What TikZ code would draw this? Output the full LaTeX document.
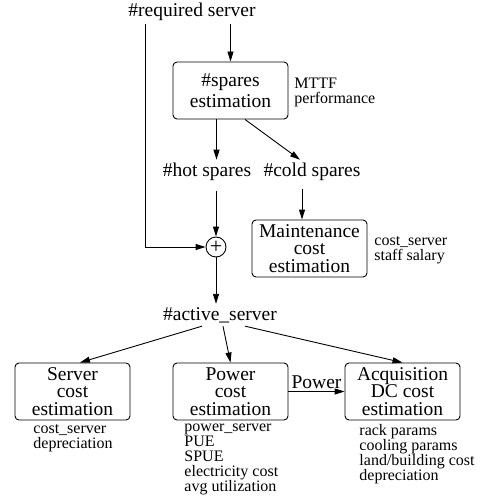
\documentclass[tikz,border=0pt]{standalone}
\usepackage{fontspec}
\setmainfont{Liberation Serif}
\usetikzlibrary{arrows.meta}
\begin{document}
\begin{tikzpicture}[x=1pt,y=-1pt,
  box/.style={draw, rounded corners=4pt, minimum width=115pt, minimum height=57pt, inner sep=0pt, align=center, font=\fontsize{19.5}{17.5}\selectfont},
  box2/.style={box, font=\fontsize{19.5}{20.5}\selectfont},
  lbl/.style={inner sep=3pt, font=\fontsize{19.5}{20}\selectfont},
  small/.style={inner sep=0pt, align=left, font=\fontsize{16}{15}\selectfont},
  arr/.style={-{Triangle[length=10pt,width=6pt]}, line width=0.9pt},
  line width=0.9pt]
\useasboundingbox (0,0) rectangle (487,500);

\node[lbl] (req) at (192,12) {\#required server};
\node[box2] (spares) at (230.5,90.5) {\#spares\\estimation};
\node[small, anchor=west] (mttf) at (294,92) {MTTF\\performance};
\node[lbl] (hot) at (207,172) {\#hot spares};
\node[lbl] (cold) at (312,172) {\#cold spares};
\node[box] (maint) at (309.5,248.5) {Maintenance\\cost\\estimation};
\node[small, anchor=west] (msal) at (374,250) {cost\_server\\staff salary};
\node[draw, circle, minimum size=20pt, inner sep=0pt, font=\fontsize{22}{22}\selectfont] (plus) at (216,247) {+};
\node[lbl] (act) at (220,315) {\#active\_server};
\node[box] (server) at (72.5,391.5) {Server\\cost\\estimation};
\node[box] (power) at (230.5,391.5) {Power\\cost\\estimation};
\node[box] (acq) at (402.5,391.5) {Acquisition\\DC cost\\estimation};
\node[small, anchor=north west] (sl) at (33,424) {cost\_server\\depreciation};
\node[small, anchor=north west] (pl) at (184,424) {power\_server\\PUE\\SPUE\\electricity cost\\avg utilization};
\node[small, anchor=north west] (al) at (359,424) {rack params\\cooling params\\land/building cost\\depreciation};

\draw[arr] (spares.north |- req.south) -- (spares.north);
\draw[arr] ([xshift=-47pt]req.south) |- (plus.west);
\draw[arr] ([xshift=-14pt]spares.south) -- ([xshift=-14pt]spares.south |- hot.north);
\draw[arr] ([xshift=14.5pt]spares.south) -- ([xshift=-12pt]cold.north);
\draw[arr, shorten <=5pt] ([xshift=-10pt]cold.south) -- ([xshift=-10pt]cold.south |- maint.north);
\draw[arr, shorten <=7pt] (plus |- hot.south) -- (plus.north);
\draw[arr] (plus.south) -- (plus |- act.north);
\draw[arr] ([xshift=-18pt]act.south) -- ([xshift=7.5pt]server.north);
\draw[arr] ([xshift=3pt]act.south) -- (power.north);
\draw[arr] ([xshift=25pt]act.south) -- (acq.north);
\draw[arr] (power.east) -- node[above, lbl, inner sep=2pt] {Power} (acq.west);
\end{tikzpicture}
\end{document}
